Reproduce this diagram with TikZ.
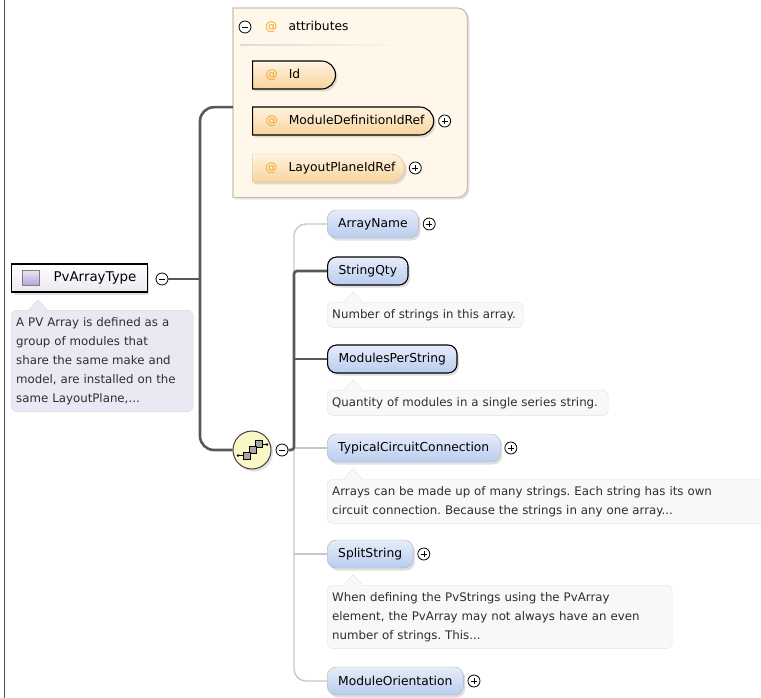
\documentclass[tikz,border=0pt]{standalone}
\usepackage{fontspec}
\setmainfont{DejaVu Sans}
\usetikzlibrary{positioning,shapes.misc,shadows}

\definecolor{attrframe}{HTML}{C9C1B3}
\definecolor{attrback}{HTML}{FFF7EA}
\definecolor{atorange}{HTML}{F0A428}
\definecolor{elemtop}{HTML}{E6EDF9}
\definecolor{elembot}{HTML}{B9CCEE}
\definecolor{attrtop}{HTML}{FFF3E0}
\definecolor{attrbot}{HTML}{F8D49C}
\definecolor{docback}{HTML}{F8F8F8}
\definecolor{docline}{HTML}{E2E2E2}
\definecolor{typedoc}{HTML}{ECE8F3}
\definecolor{typeline}{HTML}{D9D3E3}
\definecolor{typeicon}{HTML}{B4A4DA}
\definecolor{seqback}{HTML}{FBF6C6}
\definecolor{optgray}{HTML}{C8C8C8}
\definecolor{reqgray}{HTML}{585858}

\newcommand{\elemfont}{\fontsize{12.3}{14}\selectfont}
\newcommand{\docfont}{\fontsize{11.8}{19}\selectfont\frenchspacing}
\newcommand{\attrsign}{\textcolor{atorange}{@}\hspace{11pt}}
\newcommand{\attrtext}[2][8pt]{\hspace{13pt}\attrsign #2\hspace{#1}\null}

\tikzset{
elem/.style    = {draw=black!30, rounded corners=9pt, top color=elemtop, bottom color=elembot,
                  minimum height=28pt, inner xsep=11pt, anchor=west, font=\elemfont,
                  drop shadow={shadow xshift=2pt, shadow yshift=-2.5pt, opacity=0.25}},
reqelem/.style = {elem, draw=black, line width=1.1pt},
attr/.style    = {rounded rectangle, rounded rectangle left arc=none, draw=black!25,
                  top color=attrtop, bottom color=attrbot, minimum height=28pt,
                  inner xsep=0pt, anchor=west, font=\elemfont,
                  drop shadow={shadow xshift=2pt, shadow yshift=-2.5pt, opacity=0.25}},
reqattr/.style = {attr, draw=black, line width=1.1pt},
doc/.style     = {draw=docline, fill=docback, rounded corners=6pt, anchor=north west,
                  align=left, inner xsep=5pt, inner ysep=7pt, font=\docfont, text=black!82},
doctip/.style  = {draw=docline, fill=docback},
minus/.style   = {circle, draw, fill=white, line width=0.8pt, minimum size=12pt, inner sep=0pt,
                  path picture={\draw[line width=0.8pt]
                    ([xshift=-3pt]path picture bounding box.center) --
                    ([xshift=3pt]path picture bounding box.center);}},
plus/.style    = {minus,
                  append after command={[line width=0.8pt]
                    ([yshift=-3pt]\tikzlastnode.center) edge ([yshift=3pt]\tikzlastnode.center)}},
reqline/.style = {draw=reqgray, line width=2.6pt},
optline/.style = {draw=optgray, line width=1.4pt}
}

\begin{document}
\begin{tikzpicture}[x=1pt, y=-1pt]
  \useasboundingbox (0,0) rectangle (761,698);
  \draw[black!70, line width=1pt] (4,0) -- (4,698);

  % complex type and its annotation
  \node [draw=black, line width=1.1pt, top color=white, bottom color=typedoc, anchor=west,
         minimum height=28pt, inner xsep=11pt, font=\fontsize{13.4}{15}\selectfont,
         drop shadow={shadow xshift=2pt, shadow yshift=-2.5pt, opacity=0.25}]
                                                  (pvtype)   at (11,278)  {\hspace{31pt}PvArrayType};
  \node [draw=black!50, top color=typeicon!30, bottom color=typeicon,
         minimum width=17pt, minimum height=15pt, inner sep=0pt, right=11pt of pvtype.west]
                                                  (typeicon)             {};
  \node [minus]                                   (pvminus)  at (162,279) {};
  \node [doc, draw=typeline, fill=typedoc, text width=172pt]
                                                  (pvdoc)    at (11,310)
        {A PV Array is defined as a\\ group of modules that\\ share the same make and\\
         model, are installed on the\\ same LayoutPlane,...};
  \filldraw[doctip, draw=typeline, fill=typedoc] ([xshift=17pt,yshift=-0.6pt]pvdoc.north west)
        -- ++(10,-10.6) -- ++(10,10.6);

  % attribute group
  \node [minimum width=234pt, minimum height=189pt, inner sep=0pt, anchor=north west]
                                                  (attrbox)  at (233,8)   {};
  \fill[black!12] ([shift={(2pt,-2pt)}]attrbox.north west)
        -- ([shift={(-8pt,-2pt)}]attrbox.north east) arc[start angle=90, end angle=0, radius=10pt]
        -- ([shift={(2pt,8pt)}]attrbox.south east) arc[start angle=0, end angle=-90, radius=10pt]
        -- ([shift={(2pt,-2pt)}]attrbox.south west) -- cycle;
  \filldraw[draw=attrframe, fill=attrback, line width=1.2pt] (attrbox.north west)
        -- ([xshift=-10pt]attrbox.north east) arc[start angle=90, end angle=0, radius=10pt]
        -- ([yshift=10pt]attrbox.south east) arc[start angle=0, end angle=-90, radius=10pt]
        -- (attrbox.south west) -- cycle;
  \node [minus]                                   (attrminus) at (245,27) {};
  \node [anchor=west, font=\elemfont, inner sep=0pt]
                                                  (attrhead) at (265,27)  {\attrsign attributes};
  \shade[left color=black!14, right color=attrback] (240,44.5) rectangle (410,46);
  \node [reqattr]                                 (id)       at (252,75)  {\attrtext[34pt]{Id}};
  \node [reqattr]                                 (moddef)   at (252,121) {\attrtext{ModuleDefinitionIdRef}};
  \node [plus, right=4pt of moddef]               (moddefplus)           {};
  \node [attr]                                    (layout)   at (252,168) {\attrtext{LayoutPlaneIdRef}};
  \node [plus, right=4pt of layout]               (layoutplus)           {};

  % sequence compositor
  \node [circle, draw=black!75, line width=1pt, fill=seqback, minimum size=38pt,
         drop shadow={shadow xshift=2pt, shadow yshift=-2.5pt, opacity=0.25}]
                                                  (seq)      at (252,450) {};
  \begin{scope}[shift={(seq.center)}, line width=0.7pt]
    \draw (-14,5.5) -- (-9,5.5)  (10,-5.5) -- (15,-5.5);
    \fill (-14,5.5) circle (1.3pt)  (15,-5.5) circle (1.3pt);
    \foreach \d in {12,6,0}
      \draw[fill=black!35] (-9+\d,2-\d) rectangle ++(7,7);
  \end{scope}
  \node [minus]                                   (seqminus) at (282,450) {};

  % child elements
  \node [elem]                                    (arrname)  at (327,224) {ArrayName};
  \node [plus, right=4pt of arrname]              (arrplus)              {};
  \node [reqelem]                                 (strqty)   at (327,271) {StringQty};
  \node [doc, text width=186pt]                   (strdoc)   at (327,302) {Number of strings in this array.};
  \node [reqelem]                                 (modper)   at (327,359) {ModulesPerString};
  \node [doc, text width=271pt]                   (moddoc)   at (327,390) {Quantity of modules in a single series string.};
  \node [elem]                                    (circuit)  at (327,448) {TypicalCircuitConnection};
  \node [plus, right=4pt of circuit]              (circplus)             {};
  \node [doc, text width=460pt]                   (circdoc)  at (327,479)
        {Arrays can be made up of many strings. Each string has its own\\
         circuit connection. Because the strings in any one array...};
  \node [elem]                                    (split)    at (327,554) {SplitString};
  \node [plus, right=4pt of split]                (splitplus)            {};
  \node [doc, text width=335pt]                   (splitdoc) at (327,585)
        {When defining the PvStrings using the PvArray\\
         element, the PvArray may not always have an even\\
         number of strings. This...};
  \node [elem]                                    (orient)   at (327,681) {ModuleOrientation};
  \node [plus, right=4pt of orient]               (orientplus)           {};

  \foreach \d in {strdoc,moddoc,circdoc,splitdoc}
    \filldraw[doctip] ([xshift=16pt,yshift=-0.6pt]\d.north west) -- ++(10,-10.6) -- ++(10,10.6);

  % connectors
  \coordinate (trunk)  at (200,279);
  \coordinate (seqhub) at (294,450);
  \draw[reqline] (pvminus) -- (trunk);
  \draw[reqline, rounded corners=14pt] ([yshift=-4.5pt]attrbox.west) -| (trunk) |- (seq.west);
  \draw[optline, rounded corners=12pt] (arrname.west) -| (seqhub) |- (orient.west);
  \draw[optline] (circuit.west -| seqhub) -- (circuit.west);
  \draw[optline] (split.west -| seqhub) -- (split.west);
  \draw[reqline, rounded corners=3pt] (seqminus.east) -| (strqty.west -| seqhub) -- (strqty.west);
  \draw[reqline] (modper.west -| seqhub) -- (modper.west);
\end{tikzpicture}
\end{document}
